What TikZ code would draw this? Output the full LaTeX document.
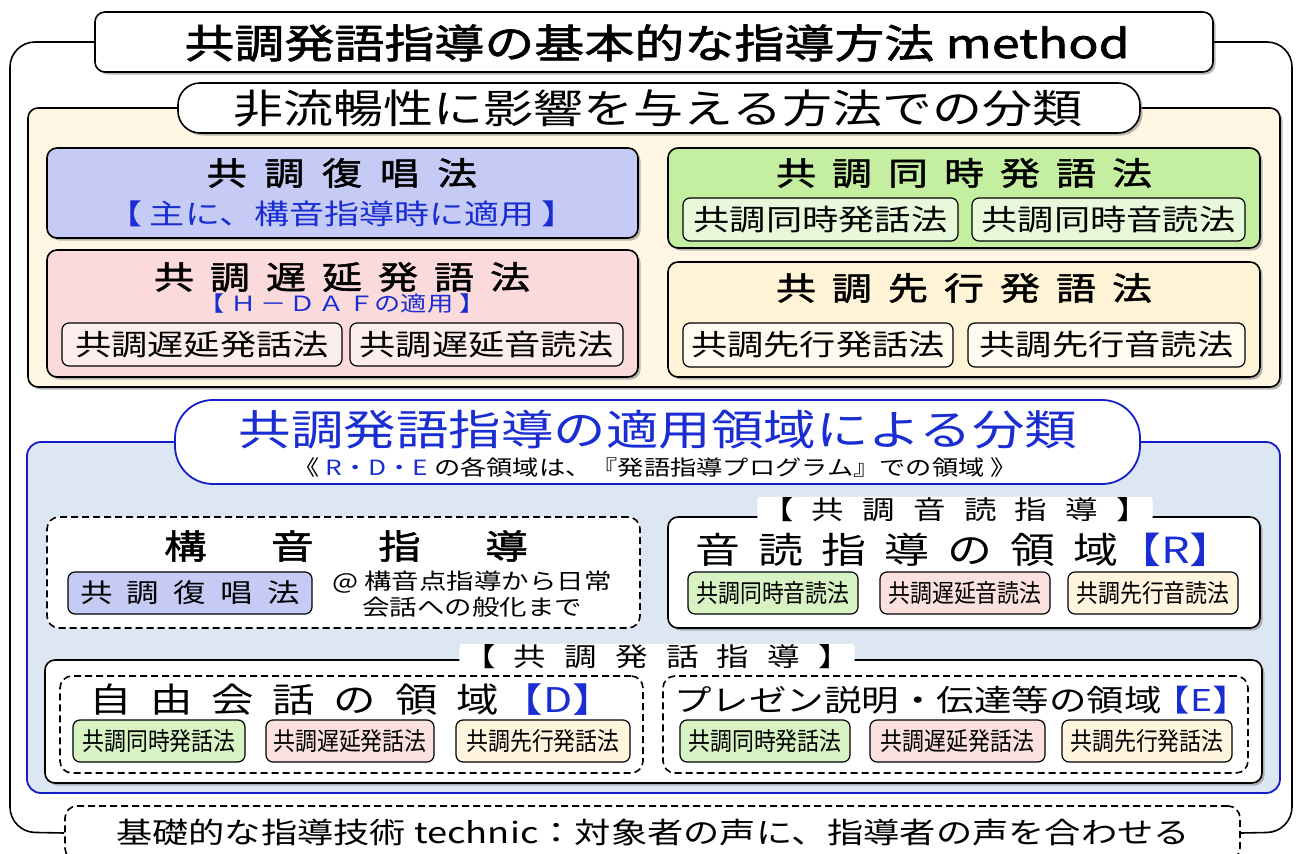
\documentclass[tikz,border=0pt]{standalone}
\usepackage{fontspec}
\usepackage{graphicx}
\setmainfont[FakeStretch=1.25]{Noto Sans CJK JP}
\newfontfamily\jpmed[FakeStretch=1.25,FakeBold=1.6]{Noto Sans CJK JP}
\usetikzlibrary{fit,shadows}
\definecolor{creambg}{RGB}{255,246,228}
\definecolor{lav}{RGB}{197,203,245}
\definecolor{pinkbox}{RGB}{250,218,218}
\definecolor{greenbox}{RGB}{196,238,160}
\definecolor{senkobox}{RGB}{255,244,214}
\definecolor{bluebg}{RGB}{221,230,243}
\definecolor{blueline}{RGB}{20,30,200}
\definecolor{bluetext}{RGB}{25,45,210}
\definecolor{subgreen}{RGB}{232,248,218}
\definecolor{subpink}{RGB}{253,238,238}
\definecolor{subcream}{RGB}{255,251,238}
\definecolor{rgreen}{RGB}{215,243,195}
\definecolor{rpink}{RGB}{250,225,222}
\definecolor{rcream}{RGB}{255,245,222}
\newcommand\fs[1]{\fontsize{#1pt}{1.2\dimexpr#1pt\relax}\selectfont}
\newcommand\cond[1]{\scalebox{0.7}[1]{#1}}
\newcommand\brk[1]{{\color{bluetext}【#1】}}
\newcommand\sbx[5]{\node[sub, fill=#4, fit={#2 #3}] (#1) {};
  \node[inner sep=0pt] (#1t) at (#1.center) {#5};}
\begin{document}
\begin{tikzpicture}[x=1pt,y=-1pt,
  box/.style={draw, line width=1.6pt, rounded corners=10pt, inner sep=0pt},
  shd/.style={drop shadow={shadow xshift=2.5pt, shadow yshift=-2.5pt, fill=black!50, opacity=.55}},
  dbox/.style={draw, line width=1.6pt, dash pattern=on 7pt off 4pt, rounded corners=12pt, inner sep=0pt, fill=white},
  sub/.style={draw, line width=1.2pt, rounded corners=7pt, inner sep=0pt},
  lbl/.style={fill=white, inner xsep=4pt, inner ysep=1pt, rounded corners=3pt},
  every node/.style={inner sep=0pt}]
\clip (0,0) rectangle (1302,854);
\fill[white] (0,0) rectangle (1302,854);

% ---- title and outer frame
\node[box, shd, fill=white, fit={(95,12) (1213,72)}] (title) {};
\node[font=\fs{40}\jpmed] (titlet) at (657,43) {共調発語指導の基本的な指導方法 method};
\node[dbox, fit={(65,806) (1240,860)}] (bot) {};
\node[font=\fs{29}] (bott) at (653,832) {基礎的な指導技術 technic：対象者の声に、指導者の声を合わせる};
\draw[line width=1.6pt, rounded corners=25pt] (title.west) -| (10,832) -- (bot.west);
\draw[line width=1.6pt, rounded corners=25pt] (title.east) -| (1292,832) -- (bot.east);

% ---- section 1
\node[box, shd, fill=creambg, fit={(28,108) (1280,387)}] (sec1) {};
\node[box, shd, fill=white, rounded corners=22pt, fit={(178,83) (1140,133)}] (sec1h) {};
\node[font=\fs{40}] (sec1t) at (658,108) {非流暢性に影響を与える方法での分類};

\node[box, shd, fill=lav, fit={(47,148) (638,238)}] (fuku) {};
\node[font=\fs{32}\jpmed] (fukut) at (342,173) {共\hspace{.55em}調\hspace{.55em}復\hspace{.55em}唱\hspace{.55em}法};
\node[font=\fs{28}, text=bluetext] (fukus) at (342,214) {【 主に、構音指導時に適用 】};

\node[box, shd, fill=pinkbox, fit={(47,250) (638,377)}] (chien) {};
\node[font=\fs{32}\jpmed] (chient) at (342,277) {共\hspace{.5em}調\hspace{.5em}遅\hspace{.5em}延\hspace{.5em}発\hspace{.5em}語\hspace{.5em}法};
\node[font=\fs{21}, text=bluetext] (chiens) at (342,304) {【\hspace{.3em}Ｈ\hspace{.15em}－\hspace{.15em}Ｄ\hspace{.15em}Ａ\hspace{.15em}Ｆの適用\hspace{.3em}】};
\sbx{chienA}{(62,323)}{(342,366)}{subpink}{\fs{29}共調遅延発話法}
\sbx{chienB}{(350,323)}{(623,366)}{subpink}{\fs{29}共調遅延音読法}

\node[box, shd, fill=greenbox, fit={(668,148) (1260,248)}] (doji) {};
\node[font=\fs{32}\jpmed] (dojit) at (964,173) {共\hspace{.5em}調\hspace{.5em}同\hspace{.5em}時\hspace{.5em}発\hspace{.5em}語\hspace{.5em}法};
\sbx{dojiA}{(683,198)}{(958,241)}{subgreen}{\fs{29}共調同時発話法}
\sbx{dojiB}{(972,198)}{(1245,241)}{subgreen}{\fs{29}共調同時音読法}

\node[box, shd, fill=senkobox, fit={(668,262) (1260,377)}] (senko) {};
\node[font=\fs{32}\jpmed] (senkot) at (964,288) {共\hspace{.5em}調\hspace{.5em}先\hspace{.5em}行\hspace{.5em}発\hspace{.5em}語\hspace{.5em}法};
\sbx{senkoA}{(683,323)}{(953,367)}{subcream}{\fs{29}共調先行発話法}
\sbx{senkoB}{(968,323)}{(1245,367)}{subcream}{\fs{29}共調先行音読法}

% ---- section 2
\node[draw=blueline, line width=1.8pt, fill=bluebg, rounded corners=14pt, fit={(27,442) (1280,793)}] (sec2) {};
\node[draw=blueline, line width=1.8pt, fill=white, rounded corners=38pt, fit={(175,400) (1140,484)}] (sec2h) {};
\node[font=\fs{42}, text=bluetext] (sec2t) at (658,430) {共調発語指導の適用領域による分類};
\node[font=\fs{21}] (sec2s) at (655,467) {《 {\color{bluetext}R・D・E} の各領域は、『発語指導プログラム』での領域 》};

% 構音指導
\node[dbox, fit={(47,517) (640,628)}] (koon) {};
\node[font=\fs{34}\jpmed] (koont) at (346,546) {構\hspace{1.9em}音\hspace{1.9em}指\hspace{1.9em}導};
\sbx{koonA}{(68,572)}{(312,614)}{lav}{\fs{26}共\hspace{.55em}調\hspace{.55em}復\hspace{.55em}唱\hspace{.55em}法}
\node[font=\fs{22}, align=center] (koonn) at (472,594) {@ 構音点指導から日常\\会話への般化まで};

% R
\node[box, shd, fill=white, fit={(668,517) (1260,628)}] (ronbox) {};
\node[lbl, font=\fs{26}] (ronl) at (955,510) {【\hspace{.7em}共\hspace{.7em}調\hspace{.7em}音\hspace{.7em}読\hspace{.7em}指\hspace{.7em}導\hspace{.7em}】};
\node[font=\fs{36}] (ront) at (965,550) {音\hspace{.5em}読\hspace{.5em}指\hspace{.5em}導\hspace{.5em}の\hspace{.5em}領\hspace{.5em}域\hspace{-.05em}\brk{R}};
\sbx{rA}{(688,572)}{(858,614)}{rgreen}{\cond{\fs{25}共調同時音読法}}
\sbx{rB}{(880,572)}{(1050,614)}{rpink}{\cond{\fs{25}共調遅延音読法}}
\sbx{rC}{(1068,572)}{(1238,614)}{rcream}{\cond{\fs{25}共調先行音読法}}

% 発話
\node[box, shd, fill=white, fit={(45,660) (1262,783)}] (hatsuwa) {};
\node[lbl, font=\fs{26}] (hatsuwal) at (657,657) {【\hspace{.7em}共\hspace{.7em}調\hspace{.7em}発\hspace{.7em}話\hspace{.7em}指\hspace{.7em}導\hspace{.7em}】};
\node[dbox, fit={(60,676) (643,773)}] (dbx) {};
\node[font=\fs{34}] (dt) at (352,700) {自\hspace{.55em}由\hspace{.55em}会\hspace{.55em}話\hspace{.55em}の\hspace{.55em}領\hspace{.55em}域\hspace{.05em}\brk{D}};
\sbx{dA}{(73,720)}{(245,762)}{rgreen}{\cond{\fs{25}共調同時発話法}}
\sbx{dB}{(266,720)}{(434,762)}{rpink}{\cond{\fs{25}共調遅延発話法}}
\sbx{dC}{(456,720)}{(630,762)}{rcream}{\cond{\fs{25}共調先行発話法}}

\node[dbox, fit={(663,676) (1248,773)}] (ebx) {};
\node[font=\fs{30}] (et) at (962,700) {プレゼン説明・伝達等の領域\hspace{-.3em}\brk{E}};
\sbx{eA}{(680,720)}{(850,762)}{rgreen}{\cond{\fs{25}共調同時発話法}}
\sbx{eB}{(870,720)}{(1045,762)}{rpink}{\cond{\fs{25}共調遅延発話法}}
\sbx{eC}{(1062,720)}{(1232,762)}{rcream}{\cond{\fs{25}共調先行発話法}}
\end{tikzpicture}
\end{document}
